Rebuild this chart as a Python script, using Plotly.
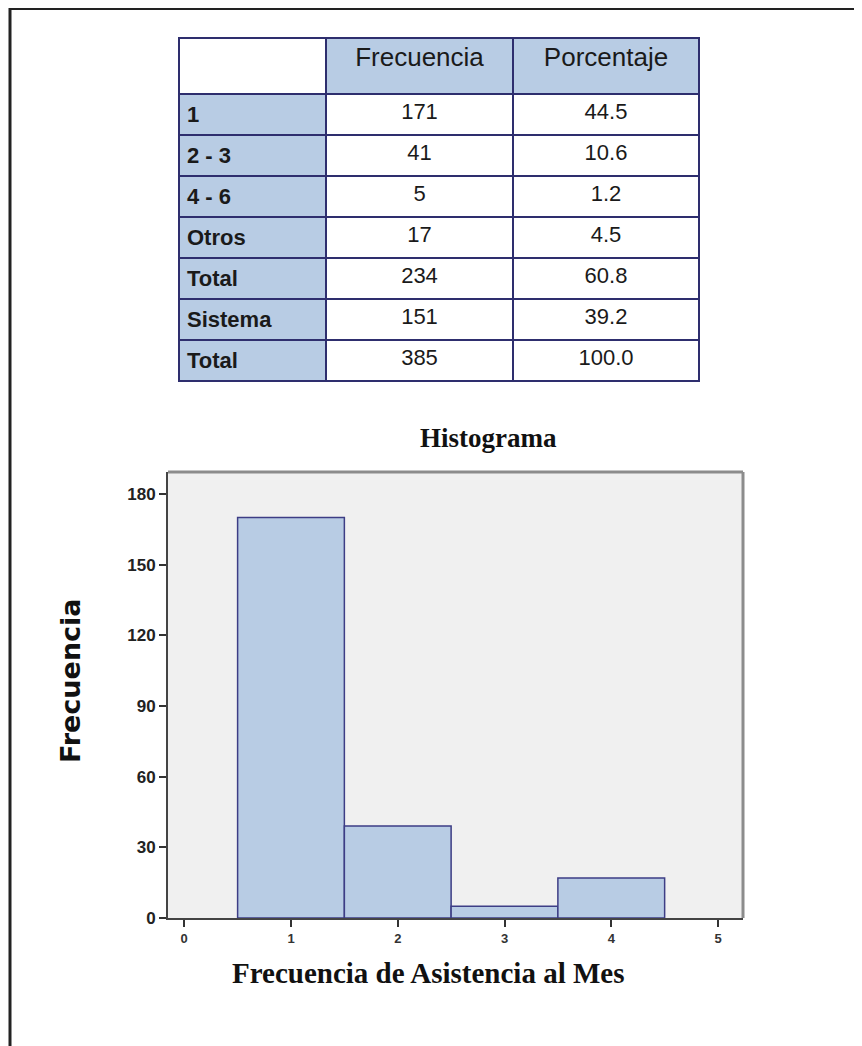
import plotly.graph_objects as go

# tabla de frecuencias
row_labels = ["1", "2 - 3", "4 - 6", "Otros", "Total", "Sistema", "Total"]
frecuencia = [171, 41, 5, 17, 234, 151, 385]
porcentaje = ["44.5", "10.6", "1.2", "4.5", "60.8", "39.2", "100.0"]
header = ["", "Frecuencia", "Porcentaje"]

# histograma
bins = [1, 2, 3, 4]
counts = [170, 39, 5, 17]
y_ticks = [0, 30, 60, 90, 120, 150, 180]
x_ticks = [0, 1, 2, 3, 4, 5]

W, H = 862, 1046
OFF = 8  # la pagina desplaza la figura unos 8 px
blue = "#b8cce4"
navy = "#2e2e6e"

def px(x):
    return (x - OFF) / W

def py(y):
    return 1 - (y - OFF) / H

fig = go.Figure()

fig.add_trace(go.Table(
    domain=dict(x=[px(179), px(699)], y=[py(383), py(38)]),
    columnwidth=[147, 187, 186],
    header=dict(
        values=header,
        fill=dict(color=["white", blue, blue]),
        line=dict(color=navy, width=2),
        align="center",
        height=56,
        font=dict(family="Liberation Sans, Arial", size=26, color="#1a1a1a"),
    ),
    cells=dict(
        values=[["<b>" + r + "</b>" for r in row_labels], frecuencia, porcentaje],
        fill=dict(color=[[blue] * 7, ["white"] * 7, ["white"] * 7]),
        line=dict(color=navy, width=2),
        align=["left", "center", "center"],
        height=41,
        font=dict(family="Liberation Sans, Arial", size=22, color="#1a1a1a"),
    ),
))

fig.add_trace(go.Bar(
    x=bins, y=counts, width=1,
    marker=dict(color=blue, line=dict(color="#3d3d85", width=1.5)),
    showlegend=False,
))

fig.update_layout(
    width=W, height=H,
    margin=dict(l=0, r=0, t=0, b=0),
    paper_bgcolor="white",
    plot_bgcolor="#f0f0f0",
    xaxis=dict(
        domain=[px(168), px(743)], range=[-0.152, 5.234],
        tickvals=x_ticks, ticks="outside", ticklen=7, tickwidth=1.5, tickcolor="#333",
        showline=True, linecolor="#444", linewidth=2, showgrid=False, zeroline=False,
        tickfont=dict(family="Liberation Sans Narrow, Liberation Sans", size=13, color="#333", weight="bold"),
        automargin=False, fixedrange=True,
    ),
    yaxis=dict(
        domain=[py(918), py(472)], range=[0, 189.3],
        tickvals=y_ticks, ticks="outside", ticklen=7, tickwidth=1.5, tickcolor="#333",
        showline=True, linecolor="#444", linewidth=2, showgrid=False, zeroline=False,
        tickfont=dict(family="Liberation Sans Narrow, Liberation Sans", size=17, color="#222", weight="bold"),
        automargin=False, fixedrange=True,
    ),
    shapes=[
        # marco exterior
        dict(type="line", xref="paper", yref="paper", x0=px(10), x1=1.02, y0=1, y1=1,
             line=dict(color="#222", width=4)),
        dict(type="line", xref="paper", yref="paper", x0=px(10), x1=px(10), y0=1, y1=-0.02,
             line=dict(color="#222", width=3)),
        # borde superior y derecho del area de grafico
        dict(type="line", xref="x domain", yref="y domain", x0=0, x1=1, y0=1, y1=1,
             line=dict(color="#8c8c8c", width=3)),
        dict(type="line", xref="x domain", yref="y domain", x0=1, x1=1, y0=0, y1=1,
             line=dict(color="#8c8c8c", width=3)),
    ],
    annotations=[
        dict(text="<b>Histograma</b>", xref="paper", yref="paper", x=px(489), y=py(438),
             xanchor="center", yanchor="middle", showarrow=False,
             font=dict(family="Liberation Serif, Times New Roman", size=27, color="#111")),
        dict(text="<b>Frecuencia de Asistencia al Mes</b>", xref="paper", yref="paper",
             x=px(428), y=py(973), xanchor="center", yanchor="middle", showarrow=False,
             font=dict(family="Liberation Serif, Times New Roman", size=29, color="#111")),
        dict(text="<b>Frecuencia</b>", xref="paper", yref="paper", x=px(70), y=py(681),
             xanchor="center", yanchor="middle", showarrow=False, textangle=-90,
             font=dict(family="DejaVu Sans", size=27, color="#111")),
    ],
)

fig.write_html("out.html")
